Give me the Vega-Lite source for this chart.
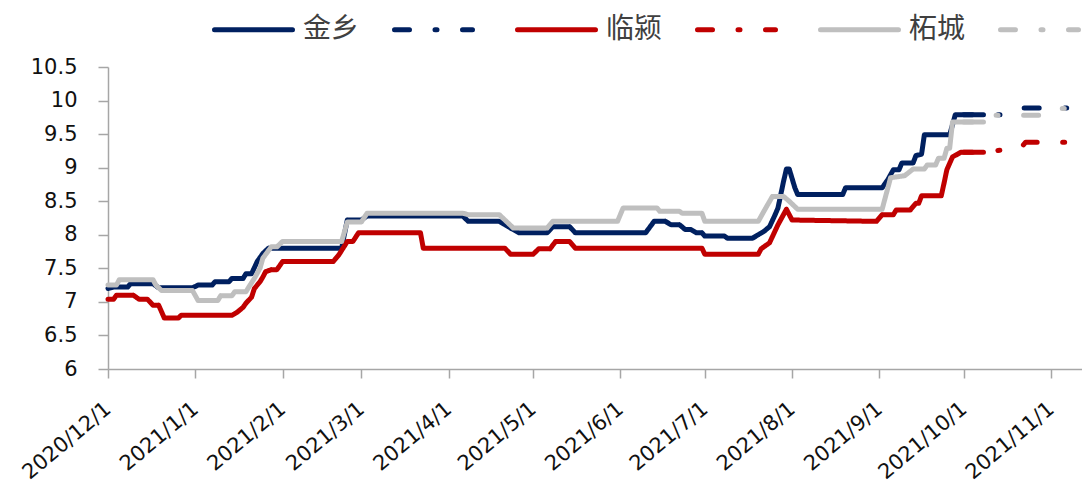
{
"$schema": "https://vega.github.io/schema/vega-lite/v6.json",
"width": 974, "height": 302,
"autosize": {"type": "none"},
"padding": {"left": 108, "top": 67, "right": 0, "bottom": 121},
"background": "white",
"config": {"view": {"stroke": null}},
"data": {"values": [
{"s":"金乡","d":"2020-12-01","v":7.2},
{"s":"金乡","d":"2020-12-03","v":7.22},
{"s":"金乡","d":"2020-12-08","v":7.22},
{"s":"金乡","d":"2020-12-09","v":7.27},
{"s":"金乡","d":"2020-12-17","v":7.27},
{"s":"金乡","d":"2020-12-19","v":7.21},
{"s":"金乡","d":"2020-12-31","v":7.21},
{"s":"金乡","d":"2021-01-02","v":7.25},
{"s":"金乡","d":"2021-01-07","v":7.25},
{"s":"金乡","d":"2021-01-08","v":7.3},
{"s":"金乡","d":"2021-01-13","v":7.3},
{"s":"金乡","d":"2021-01-14","v":7.35},
{"s":"金乡","d":"2021-01-18","v":7.35},
{"s":"金乡","d":"2021-01-19","v":7.42},
{"s":"金乡","d":"2021-01-21","v":7.42},
{"s":"金乡","d":"2021-01-23","v":7.6},
{"s":"金乡","d":"2021-01-25","v":7.72},
{"s":"金乡","d":"2021-01-27","v":7.8},
{"s":"金乡","d":"2021-02-22","v":7.8},
{"s":"金乡","d":"2021-02-24","v":8.22},
{"s":"金乡","d":"2021-03-01","v":8.22},
{"s":"金乡","d":"2021-03-03","v":8.28},
{"s":"金乡","d":"2021-04-06","v":8.28},
{"s":"金乡","d":"2021-04-08","v":8.2},
{"s":"金乡","d":"2021-04-19","v":8.2},
{"s":"金乡","d":"2021-04-21","v":8.15},
{"s":"金乡","d":"2021-04-23","v":8.1},
{"s":"金乡","d":"2021-04-26","v":8.03},
{"s":"金乡","d":"2021-05-06","v":8.03},
{"s":"金乡","d":"2021-05-08","v":8.12},
{"s":"金乡","d":"2021-05-14","v":8.12},
{"s":"金乡","d":"2021-05-16","v":8.03},
{"s":"金乡","d":"2021-06-10","v":8.03},
{"s":"金乡","d":"2021-06-13","v":8.2},
{"s":"金乡","d":"2021-06-17","v":8.2},
{"s":"金乡","d":"2021-06-19","v":8.15},
{"s":"金乡","d":"2021-06-22","v":8.15},
{"s":"金乡","d":"2021-06-24","v":8.08},
{"s":"金乡","d":"2021-06-26","v":8.08},
{"s":"金乡","d":"2021-06-28","v":8.03},
{"s":"金乡","d":"2021-06-30","v":8.03},
{"s":"金乡","d":"2021-07-01","v":7.98},
{"s":"金乡","d":"2021-07-08","v":7.98},
{"s":"金乡","d":"2021-07-09","v":7.95},
{"s":"金乡","d":"2021-07-18","v":7.95},
{"s":"金乡","d":"2021-07-20","v":8.0},
{"s":"金乡","d":"2021-07-22","v":8.05},
{"s":"金乡","d":"2021-07-24","v":8.12},
{"s":"金乡","d":"2021-07-26","v":8.3},
{"s":"金乡","d":"2021-07-27","v":8.4},
{"s":"金乡","d":"2021-07-29","v":8.8},
{"s":"金乡","d":"2021-07-30","v":8.98},
{"s":"金乡","d":"2021-07-31","v":8.98},
{"s":"金乡","d":"2021-08-02","v":8.7},
{"s":"金乡","d":"2021-08-03","v":8.6},
{"s":"金乡","d":"2021-08-19","v":8.6},
{"s":"金乡","d":"2021-08-20","v":8.7},
{"s":"金乡","d":"2021-09-02","v":8.7},
{"s":"金乡","d":"2021-09-04","v":8.82},
{"s":"金乡","d":"2021-09-06","v":8.97},
{"s":"金乡","d":"2021-09-08","v":8.97},
{"s":"金乡","d":"2021-09-09","v":9.07},
{"s":"金乡","d":"2021-09-13","v":9.07},
{"s":"金乡","d":"2021-09-14","v":9.18},
{"s":"金乡","d":"2021-09-16","v":9.2},
{"s":"金乡","d":"2021-09-17","v":9.49},
{"s":"金乡","d":"2021-09-26","v":9.49},
{"s":"金乡","d":"2021-09-28","v":9.79},
{"s":"金乡","d":"2021-10-08","v":9.79},
{"s":"金乡预测","d":"2021-10-01","v":9.79},
{"s":"金乡预测","d":"2021-10-14","v":9.79},
{"s":"金乡预测","d":"2021-10-20","v":9.89},
{"s":"金乡预测","d":"2021-11-07","v":9.89},
{"s":"临颍","d":"2020-12-01","v":7.04},
{"s":"临颍","d":"2020-12-03","v":7.04},
{"s":"临颍","d":"2020-12-04","v":7.1},
{"s":"临颍","d":"2020-12-10","v":7.1},
{"s":"临颍","d":"2020-12-12","v":7.04},
{"s":"临颍","d":"2020-12-15","v":7.04},
{"s":"临颍","d":"2020-12-17","v":6.95},
{"s":"临颍","d":"2020-12-19","v":6.95},
{"s":"临颍","d":"2020-12-21","v":6.76},
{"s":"临颍","d":"2020-12-26","v":6.76},
{"s":"临颍","d":"2020-12-27","v":6.8},
{"s":"临颍","d":"2021-01-14","v":6.8},
{"s":"临颍","d":"2021-01-16","v":6.85},
{"s":"临颍","d":"2021-01-18","v":6.92},
{"s":"临颍","d":"2021-01-19","v":6.98},
{"s":"临颍","d":"2021-01-21","v":7.07},
{"s":"临颍","d":"2021-01-22","v":7.2},
{"s":"临颍","d":"2021-01-24","v":7.3},
{"s":"临颍","d":"2021-01-25","v":7.37},
{"s":"临颍","d":"2021-01-26","v":7.45},
{"s":"临颍","d":"2021-01-28","v":7.48},
{"s":"临颍","d":"2021-01-30","v":7.48},
{"s":"临颍","d":"2021-02-01","v":7.6},
{"s":"临颍","d":"2021-02-19","v":7.6},
{"s":"临颍","d":"2021-02-21","v":7.7},
{"s":"临颍","d":"2021-02-24","v":7.9},
{"s":"临颍","d":"2021-02-26","v":7.9},
{"s":"临颍","d":"2021-02-28","v":8.03},
{"s":"临颍","d":"2021-03-22","v":8.03},
{"s":"临颍","d":"2021-03-23","v":7.8},
{"s":"临颍","d":"2021-04-21","v":7.8},
{"s":"临颍","d":"2021-04-23","v":7.71},
{"s":"临颍","d":"2021-05-01","v":7.71},
{"s":"临颍","d":"2021-05-03","v":7.79},
{"s":"临颍","d":"2021-05-07","v":7.79},
{"s":"临颍","d":"2021-05-09","v":7.9},
{"s":"临颍","d":"2021-05-14","v":7.9},
{"s":"临颍","d":"2021-05-16","v":7.8},
{"s":"临颍","d":"2021-06-30","v":7.8},
{"s":"临颍","d":"2021-07-01","v":7.71},
{"s":"临颍","d":"2021-07-20","v":7.71},
{"s":"临颍","d":"2021-07-21","v":7.79},
{"s":"临颍","d":"2021-07-24","v":7.88},
{"s":"临颍","d":"2021-07-27","v":8.15},
{"s":"临颍","d":"2021-07-30","v":8.38},
{"s":"临颍","d":"2021-08-01","v":8.22},
{"s":"临颍","d":"2021-08-31","v":8.2},
{"s":"临颍","d":"2021-09-02","v":8.3},
{"s":"临颍","d":"2021-09-06","v":8.3},
{"s":"临颍","d":"2021-09-07","v":8.37},
{"s":"临颍","d":"2021-09-12","v":8.37},
{"s":"临颍","d":"2021-09-14","v":8.47},
{"s":"临颍","d":"2021-09-15","v":8.47},
{"s":"临颍","d":"2021-09-16","v":8.58},
{"s":"临颍","d":"2021-09-23","v":8.58},
{"s":"临颍","d":"2021-09-24","v":8.77},
{"s":"临颍","d":"2021-09-25","v":8.97},
{"s":"临颍","d":"2021-09-27","v":9.16},
{"s":"临颍","d":"2021-09-30","v":9.23},
{"s":"临颍","d":"2021-10-08","v":9.23},
{"s":"临颍预测","d":"2021-10-01","v":9.23},
{"s":"临颍预测","d":"2021-10-08","v":9.23},
{"s":"临颍预测","d":"2021-10-16","v":9.27},
{"s":"临颍预测","d":"2021-10-21","v":9.28},
{"s":"临颍预测","d":"2021-10-23","v":9.38},
{"s":"临颍预测","d":"2021-11-07","v":9.38},
{"s":"柘城","d":"2020-12-01","v":7.25},
{"s":"柘城","d":"2020-12-04","v":7.25},
{"s":"柘城","d":"2020-12-05","v":7.33},
{"s":"柘城","d":"2020-12-17","v":7.33},
{"s":"柘城","d":"2020-12-18","v":7.25},
{"s":"柘城","d":"2020-12-20","v":7.17},
{"s":"柘城","d":"2020-12-31","v":7.17},
{"s":"柘城","d":"2021-01-02","v":7.02},
{"s":"柘城","d":"2021-01-09","v":7.02},
{"s":"柘城","d":"2021-01-10","v":7.09},
{"s":"柘城","d":"2021-01-14","v":7.09},
{"s":"柘城","d":"2021-01-15","v":7.15},
{"s":"柘城","d":"2021-01-19","v":7.15},
{"s":"柘城","d":"2021-01-20","v":7.22},
{"s":"柘城","d":"2021-01-22","v":7.35},
{"s":"柘城","d":"2021-01-24","v":7.5},
{"s":"柘城","d":"2021-01-25","v":7.65},
{"s":"柘城","d":"2021-01-28","v":7.82},
{"s":"柘城","d":"2021-01-30","v":7.82},
{"s":"柘城","d":"2021-02-01","v":7.9},
{"s":"柘城","d":"2021-02-22","v":7.9},
{"s":"柘城","d":"2021-02-24","v":8.19},
{"s":"柘城","d":"2021-03-01","v":8.19},
{"s":"柘城","d":"2021-03-03","v":8.32},
{"s":"柘城","d":"2021-04-06","v":8.32},
{"s":"柘城","d":"2021-04-08","v":8.3},
{"s":"柘城","d":"2021-04-19","v":8.3},
{"s":"柘城","d":"2021-04-22","v":8.18},
{"s":"柘城","d":"2021-04-24","v":8.1},
{"s":"柘城","d":"2021-05-06","v":8.1},
{"s":"柘城","d":"2021-05-08","v":8.2},
{"s":"柘城","d":"2021-05-31","v":8.2},
{"s":"柘城","d":"2021-06-02","v":8.4},
{"s":"柘城","d":"2021-06-14","v":8.4},
{"s":"柘城","d":"2021-06-15","v":8.35},
{"s":"柘城","d":"2021-06-22","v":8.35},
{"s":"柘城","d":"2021-06-23","v":8.32},
{"s":"柘城","d":"2021-06-30","v":8.32},
{"s":"柘城","d":"2021-07-01","v":8.2},
{"s":"柘城","d":"2021-07-20","v":8.2},
{"s":"柘城","d":"2021-07-22","v":8.35},
{"s":"柘城","d":"2021-07-25","v":8.57},
{"s":"柘城","d":"2021-07-29","v":8.57},
{"s":"柘城","d":"2021-07-31","v":8.5},
{"s":"柘城","d":"2021-08-03","v":8.38},
{"s":"柘城","d":"2021-09-02","v":8.38},
{"s":"柘城","d":"2021-09-05","v":8.85},
{"s":"柘城","d":"2021-09-10","v":8.88},
{"s":"柘城","d":"2021-09-13","v":8.98},
{"s":"柘城","d":"2021-09-17","v":8.98},
{"s":"柘城","d":"2021-09-18","v":9.04},
{"s":"柘城","d":"2021-09-21","v":9.04},
{"s":"柘城","d":"2021-09-22","v":9.14},
{"s":"柘城","d":"2021-09-24","v":9.14},
{"s":"柘城","d":"2021-09-25","v":9.29},
{"s":"柘城","d":"2021-09-26","v":9.29},
{"s":"柘城","d":"2021-09-27","v":9.68},
{"s":"柘城","d":"2021-10-08","v":9.68},
{"s":"柘城预测","d":"2021-10-01","v":9.68},
{"s":"柘城预测","d":"2021-10-08","v":9.68},
{"s":"柘城预测","d":"2021-10-12","v":9.78},
{"s":"柘城预测","d":"2021-10-30","v":9.78},
{"s":"柘城预测","d":"2021-11-03","v":9.88},
{"s":"柘城预测","d":"2021-11-07","v":9.88}
]},
"mark": {"type": "line", "strokeWidth": 5, "strokeCap": "round", "strokeJoin": "round", "strokeDashOffset": 6.3},
"encoding": {
  "x": {"field": "d", "type": "temporal",
    "scale": {"type": "utc", "domain": [{"year":2020,"month":12,"date":1,"utc":true},{"year":2021,"month":11,"date":12,"utc":true}]},
    "axis": {"title": null, "grid": false, "format": "%Y/%-m/%-d", "labelAngle": -40, "labelAlign": "right", "labelBaseline": "middle",
      "labelFont": "DejaVu Sans", "labelFontSize": 21, "labelColor": "#111111", "labelPadding": 28, "labelOverlap": false, "labelFlush": false, "labelBound": false,
      "tickSize": 9, "tickWidth": 1.5, "tickColor": "#A6A6A6", "domainColor": "#A6A6A6", "domainWidth": 1.5,
      "values": [{"year":2020,"month":12,"date":1,"utc":true},{"year":2021,"month":1,"date":1,"utc":true},{"year":2021,"month":2,"date":1,"utc":true},{"year":2021,"month":3,"date":1,"utc":true},{"year":2021,"month":4,"date":1,"utc":true},{"year":2021,"month":5,"date":1,"utc":true},{"year":2021,"month":6,"date":1,"utc":true},{"year":2021,"month":7,"date":1,"utc":true},{"year":2021,"month":8,"date":1,"utc":true},{"year":2021,"month":9,"date":1,"utc":true},{"year":2021,"month":10,"date":1,"utc":true},{"year":2021,"month":11,"date":1,"utc":true}]}},
  "y": {"field": "v", "type": "quantitative",
    "scale": {"domain": [6, 10.5], "zero": false, "nice": false},
    "axis": {"title": null, "grid": false, "values": [6,6.5,7,7.5,8,8.5,9,9.5,10,10.5], "format": "~g",
      "labelFont": "DejaVu Sans", "labelFontSize": 21, "labelColor": "#111111", "labelPadding": 21,
      "tickSize": 10, "tickWidth": 1.5, "tickColor": "#A6A6A6", "domainColor": "#A6A6A6", "domainWidth": 1.5}},
  "color": {"field": "s", "type": "nominal",
    "scale": {"domain": ["金乡","金乡预测","临颍","临颍预测","柘城","柘城预测"], "range": ["#002060","#002060","#C00000","#C00000","#BFBFBF","#BFBFBF"]},
    "legend": {"title": null, "orient": "none", "legendX": 104, "legendY": -79, "direction": "horizontal", "padding": 0,
      "symbolType": "stroke", "symbolSize": 6084, "symbolStrokeWidth": 5, "labelFont": "Noto Sans CJK SC", "labelFontSize": 28, "labelColor": "#404040",
      "labelOffset": 8, "columnPadding": 24,
      "labelExpr": "indexof(datum.label, '预测') >= 0 ? '' : datum.label",
      "encode": {"symbols": {"update": {"strokeCap": {"value": "round"}}}}}},
  "strokeDash": {"field": "s", "type": "nominal",
    "scale": {"domain": ["金乡","金乡预测","临颍","临颍预测","柘城","柘城预测"], "range": [[1,0],[15,25.5,2,25.5],[1,0],[15,25.5,2,25.5],[1,0],[15,25.5,2,25.5]]},
    "legend": {"title": null, "orient": "none", "legendX": 104, "legendY": -79, "direction": "horizontal", "padding": 0,
      "symbolType": "stroke", "symbolSize": 6084, "symbolStrokeWidth": 5, "labelFont": "Noto Sans CJK SC", "labelFontSize": 28, "labelColor": "#404040",
      "labelOffset": 8, "columnPadding": 24,
      "labelExpr": "indexof(datum.label, '预测') >= 0 ? '' : datum.label",
      "encode": {"symbols": {"update": {"strokeCap": {"value": "round"}}}}}}
}
}
